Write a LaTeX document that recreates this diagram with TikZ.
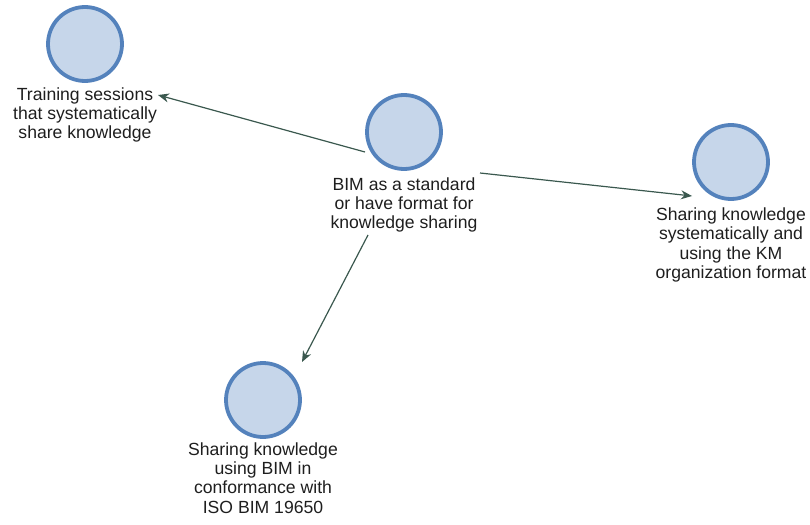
\documentclass[tikz,border=0pt]{standalone}
\usepackage{fontspec}
\setmainfont{Liberation Sans}
\usetikzlibrary{arrows.meta}
\definecolor{ringblue}{RGB}{84,130,188}
\definecolor{discblue}{RGB}{198,214,234}
\definecolor{linkgreen}{RGB}{58,88,78}
\definecolor{inkgray}{RGB}{30,30,30}
\begin{document}
\begin{tikzpicture}[x=1pt,y=-1pt,
  concept/.style={circle, draw=ringblue, fill=discblue, line width=3.8pt,
    minimum size=74pt, inner sep=0pt},
  caption/.style={align=center, inner sep=0pt, text=inkgray,
    font=\fontsize{17.6}{19.2}\selectfont},
  link/.style={draw=linkgreen, line width=1.2pt,
    -{Stealth[length=11pt,width=9pt]}}]
\useasboundingbox (0,0) rectangle (810,524);

% concepts
\node[concept] (train) at (85,44) {};
\node[concept] (hub) at (404,132) {};
\node[concept] (kmformat) at (731,162) {};
\node[concept] (iso) at (263,400) {};

% captions
\node[caption] (trainlbl) at (85,115) {Training sessions\\that systematically\\share knowledge};
\node[caption] (hublbl) at (404,205) {BIM as a standard\\or have format for\\knowledge sharing};
\node[caption] (kmlbl) at (731,245) {Sharing knowledge\\systematically and\\using the KM\\organization format};
\node[caption] (isolbl) at (263,478) {Sharing knowledge\\using BIM in\\conformance with\\ISO BIM 19650};

% connector ends
\coordinate (s1) at (365,152);
\coordinate (e1) at (158,95);
\coordinate (s2) at (480,173);
\coordinate (e2) at (692,196);
\coordinate (s3) at (368,235);
\coordinate (e3) at (302,362);

\draw[link] (s1) -- (e1);
\draw[link] (s2) -- (e2);
\draw[link] (s3) -- (e3);
\end{tikzpicture}
\end{document}
